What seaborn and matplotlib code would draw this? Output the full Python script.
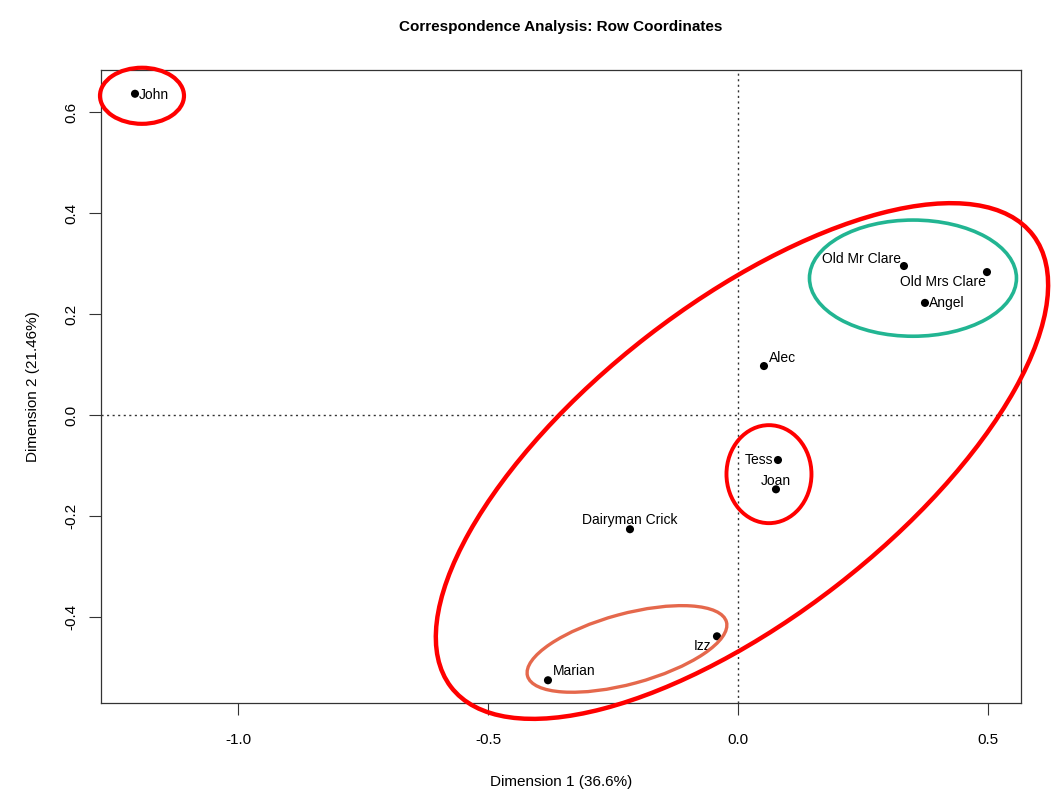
import matplotlib
matplotlib.use("Agg")
import numpy as np
import pandas as pd
import seaborn as sns
from matplotlib import pyplot as plt
from matplotlib.patches import Ellipse

# row coordinates
names = ["John", "Old Mr Clare", "Old Mrs Clare", "Angel", "Alec", "Tess",
         "Joan", "Dairyman Crick", "Izz", "Marian"]
dim1 = [-1.206, 0.332, 0.498, 0.374, 0.052, 0.080, 0.076, -0.216, -0.042, -0.380]
dim2 = [0.636, 0.295, 0.283, 0.222, 0.097, -0.089, -0.147, -0.226, -0.438, -0.525]

# label offsets (points) and alignment, R-style pos
label_dx = [3, -2, -1, 3, 3.5, -3.5, 0, 0, -4, 3.5]
label_dy = [-1, 5, -7, 0, 6, 0, 6, 6.5, -7, 6.5]
label_ha = ["left", "right", "right", "left", "left", "right", "center", "center", "right", "left"]

# cluster ellipses: centre, width, height, angle, colour
ell_cx = [-1.192, 0.008, 0.350, 0.062, -0.222]
ell_cy = [0.632, -0.091, 0.271, -0.117, -0.463]
ell_w = [0.168, 1.468, 0.414, 0.170, 0.412]
ell_h = [0.111, 0.622, 0.230, 0.194, 0.139]
ell_a = [0, 37.5, 0, 0, 15]
ell_col = ["#ff0000", "#ff0000", "#22b592", "#ff0000", "#e5684c"]
ell_lw = [3.0, 3.2, 2.6, 2.8, 2.4]

df = pd.DataFrame({"name": names, "dim1": dim1, "dim2": dim2})

sns.set_theme(style="ticks")
plt.rcParams["font.family"] = ["Liberation Sans", "DejaVu Sans"]

fig = plt.figure(figsize=(10.52, 7.93), dpi=100)
ax = fig.add_axes([0.096, 0.1135, 0.8745, 0.7982])

ax.axhline(0, color="#333333", ls=(0, (1.5, 2.5)), lw=1, zorder=1)
ax.axvline(0, color="#333333", ls=(0, (1.5, 2.5)), lw=1, zorder=1)

sns.scatterplot(data=df, x="dim1", y="dim2", color="black", s=34,
                edgecolor="none", ax=ax, zorder=3)

for n, x, y, dx, dy, ha in zip(names, dim1, dim2, label_dx, label_dy, label_ha):
    ax.annotate(n, (x, y), xytext=(dx, dy), textcoords="offset points",
                ha=ha, va="center", fontsize=10, color="black", zorder=4)

for cx, cy, w, h, a, c, lw in zip(ell_cx, ell_cy, ell_w, ell_h, ell_a, ell_col, ell_lw):
    ax.add_patch(Ellipse((cx, cy), w, h, angle=a, fill=False, edgecolor=c,
                         lw=lw, clip_on=False, zorder=5))

ax.set_xlim(-1.274, 0.566)
ax.set_ylim(-0.570, 0.683)
ax.set_xticks([-1.0, -0.5, 0.0, 0.5])
ax.set_yticks([-0.4, -0.2, 0.0, 0.2, 0.4, 0.6])
ax.set_xticklabels(["-1.0", "-0.5", "0.0", "0.5"])
ax.set_yticklabels(["-0.4", "-0.2", "0.0", "0.2", "0.4", "0.6"], rotation=90, va="center")
ax.tick_params(labelsize=11, length=8.5, width=0.8, color="#333333", labelcolor="black")
ax.tick_params(axis="x", pad=13)
ax.tick_params(axis="y", pad=7.5)
for sp in ax.spines.values():
    sp.set_linewidth(0.9)
    sp.set_color("#333333")

ax.set_xlabel("Dimension 1 (36.6%)", fontsize=11, labelpad=20, color="black")
ax.set_ylabel("Dimension 2 (21.46%)", fontsize=11, labelpad=18, color="black")
ax.set_title("Correspondence Analysis: Row Coordinates", fontsize=11,
             fontweight="bold", pad=28, color="black")

fig.savefig("out.png", dpi=100)
